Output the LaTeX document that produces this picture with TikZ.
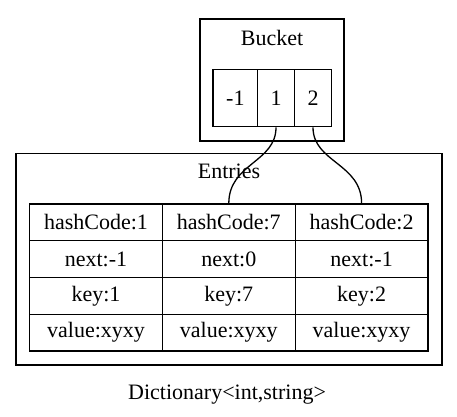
\documentclass[tikz,border=0pt]{standalone}
\usepackage{fontspec}
\setmainfont{Liberation Serif}
\begin{document}
\begin{tikzpicture}[x=1pt,y=-1pt,
  box/.style={draw,line width=1.3pt,inner sep=0pt},
  cell/.style={draw,line width=1.3pt,inner sep=0pt,minimum width=132.8pt,minimum height=36.75pt,font=\fontsize{22}{26}\selectfont},
  bcell/.style={draw,line width=1.3pt,inner sep=0pt,minimum height=57.4pt,font=\fontsize{22}{26}\selectfont},
  lab/.style={inner sep=0pt,font=\fontsize{22}{26}\selectfont},
  link/.style={line width=1.3pt}]
\useasboundingbox (0,0) rectangle (457,416);
% Bucket cluster
\node[box,minimum width=144pt,minimum height=122pt] (bucket) at (272,80) {};
\node[lab] (bucketlab) at (272,38) {Bucket};
\node[bcell,minimum width=44.7pt] (bm1) at (235.35,98) {-1};
\node[bcell,minimum width=36.6pt] (b1) at (276,98) {1};
\node[bcell,minimum width=37.4pt] (b2) at (313,98) {2};
% Entries cluster
\node[box,minimum width=426pt,minimum height=211.7pt] (entries) at (229,259.2) {};
\node[lab] (entrieslab) at (229,171) {Entries};
\foreach \c/\x/\h/\n/\k in {a/96/1/-1/1, b/228.8/7/0/7, c/361.6/2/-1/2}{
  \node[cell] (\c h) at (\x,222.4) {hashCode:\h};
  \node[cell] (\c n) at (\x,259.1) {next:\n};
  \node[cell] (\c k) at (\x,295.8) {key:\k};
  \node[cell] (\c v) at (\x,332.6) {value:xyxy};
}
\node[lab,anchor=west] (title) at (128,395) {Dictionary<int,string>};
% links
\draw[link] (b1.south) .. controls ([yshift=-35pt]b1.south) and ([yshift=40pt]bh.north) .. (bh.north);
\draw[link] (b2.south) .. controls ([yshift=-35pt]b2.south) and ([yshift=40pt]ch.north) .. (ch.north);
\end{tikzpicture}
\end{document}
